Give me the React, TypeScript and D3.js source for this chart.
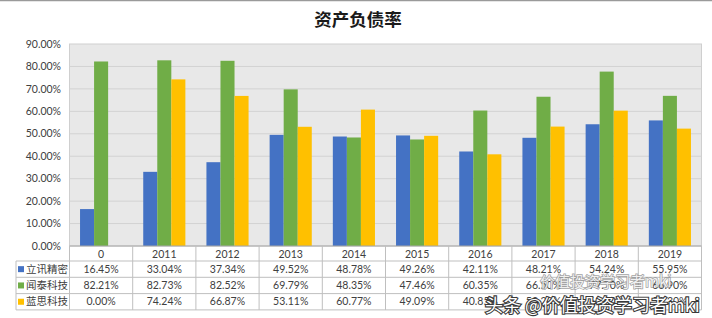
import React from 'react';
import * as d3 from 'd3';

const categories = ['0', '2011', '2012', '2013', '2014', '2015', '2016', '2017', '2018', '2019'];
const seriesNames = ['立讯精密', '闻泰科技', '蓝思科技'];
const luxshare = [0.1645, 0.3304, 0.3734, 0.4952, 0.4878, 0.4926, 0.4211, 0.4821, 0.5424, 0.5595];
const wingtech = [0.8221, 0.8273, 0.8252, 0.6979, 0.4835, 0.4746, 0.6035, 0.6650, 0.7770, 0.6690];
const lens = [0.0, 0.7424, 0.6687, 0.5311, 0.6077, 0.4909, 0.4085, 0.5320, 0.6030, 0.5230];
const yTicks = [0, 0.1, 0.2, 0.3, 0.4, 0.5, 0.6, 0.7, 0.8, 0.9];
const colors = ['#4472C4', '#70AD47', '#FFC000'];

const W = 712;
const H = 318;
const plot = { left: 69.5, right: 701.5, top: 44, bottom: 246 };
const table = { left: 16, rowH: 16.3, firstRowTop: 261 };

const latin = 'Lato, "Noto Sans CJK SC", sans-serif';
const cjk = '"Noto Sans CJK SC", sans-serif';
const textColor = '#404040';

export default function App() {
  const values = [luxshare, wingtech, lens];

  const x0 = d3.scaleBand().domain(categories).range([plot.left, plot.right]).paddingInner(0).paddingOuter(0);
  const x1 = d3.scaleBand().domain(seriesNames).range([0, x0.bandwidth()]).paddingInner(0).paddingOuter(0.75);
  const y = d3.scaleLinear().domain([0, 0.9]).range([plot.bottom, plot.top]);
  const fmt = (v: number) => (v * 100).toFixed(2) + '%';

  const tableBottom = table.firstRowTop + table.rowH * 3;
  const colLines = d3.range(categories.length + 1).map(i => plot.left + i * x0.step());

  return (
    <div style={{ position: 'absolute', left: 0, top: 0 }}>
      <svg width={W} height={H} style={{ display: 'block', background: '#fff' }}>
        <line x1={0} x2={W} y1={0.5} y2={0.5} stroke="#9a9a9a" strokeWidth={1.5} />
        <text x={358} y={26} textAnchor="middle" fontFamily={cjk} fontWeight="bold" fontSize={17.5} fill="#1a1a1a">
          资产负债率
        </text>

        {/* plot area */}
        <rect x={plot.left} y={plot.top} width={plot.right - plot.left} height={plot.bottom - plot.top}
          fill="#e8e8e8" stroke="#cfcfcf" strokeWidth={1} />
        {yTicks.map(t => (
          <g key={t}>
            {t > 0 && t < 0.9 && (
              <line x1={plot.left} x2={plot.right} y1={y(t)} y2={y(t)} stroke="#d2d2d2" strokeWidth={1} />
            )}
            <text x={61} y={y(t)} dy="0.35em" textAnchor="end" fontFamily={latin} fontSize={10.5} fill={textColor}>
              {fmt(t)}
            </text>
          </g>
        ))}

        {/* bars */}
        {categories.map((c, ci) => (
          <g key={c} transform={`translate(${x0(c)},0)`}>
            {seriesNames.map((s, si) => {
              const v = values[si][ci];
              return (
                <rect key={s} x={x1(s)} y={y(v)} width={x1.bandwidth()} height={y(0) - y(v)} fill={colors[si]} />
              );
            })}
          </g>
        ))}

        {/* data table */}
        <line x1={plot.left} x2={plot.right} y1={plot.bottom} y2={plot.bottom} stroke="#a6a6a6" strokeWidth={1} />
        {colLines.map((lx, i) => (
          <line key={i} x1={lx} x2={lx} y1={plot.bottom} y2={tableBottom} stroke="#bfbfbf" strokeWidth={1} />
        ))}
        {d3.range(4).map(r => (
          <line key={r} x1={table.left} x2={plot.right} y1={table.firstRowTop + r * table.rowH}
            y2={table.firstRowTop + r * table.rowH} stroke="#bfbfbf" strokeWidth={1} />
        ))}
        <line x1={table.left} x2={table.left} y1={table.firstRowTop} y2={tableBottom} stroke="#bfbfbf" strokeWidth={1} />
        {categories.map(c => (
          <text key={c} x={(x0(c) as number) + x0.bandwidth() / 2} y={(plot.bottom + table.firstRowTop) / 2 + 0.5}
            dy="0.35em" textAnchor="middle" fontFamily={latin} fontSize={10.5} fill={textColor}>
            {c}
          </text>
        ))}
        {seriesNames.map((s, si) => {
          const cy = table.firstRowTop + table.rowH * (si + 0.5);
          return (
            <g key={s}>
              <rect x={18} y={cy - 3} width={6} height={6} fill={colors[si]} />
              <text x={26} y={cy} dy="0.35em" fontFamily={cjk} fontSize={10.5} fill={textColor}>{s}</text>
              {categories.map((c, ci) => (
                <text key={c} x={(x0(c) as number) + x0.bandwidth() / 2} y={cy} dy="0.35em" textAnchor="middle"
                  fontFamily={latin} fontSize={10.5} fill={textColor}>
                  {fmt(values[si][ci])}
                </text>
              ))}
            </g>
          );
        })}

        {/* watermark */}
        <text x={540} y={287} fontFamily={cjk} fontSize={15} fill="#ffffff" fillOpacity={0.85}
          stroke="#8a8a8a" strokeWidth={1.5} strokeOpacity={0.8} paintOrder="stroke">
          价值投资学习者mki
        </text>
        <text x={485} y={312} fontFamily={cjk} fontSize={18} fill="#ffffff" stroke="#3a3a3a" strokeWidth={2.2}
          paintOrder="stroke">
          头条 @价值投资学习者mki
        </text>
      </svg>
    </div>
  );
}
